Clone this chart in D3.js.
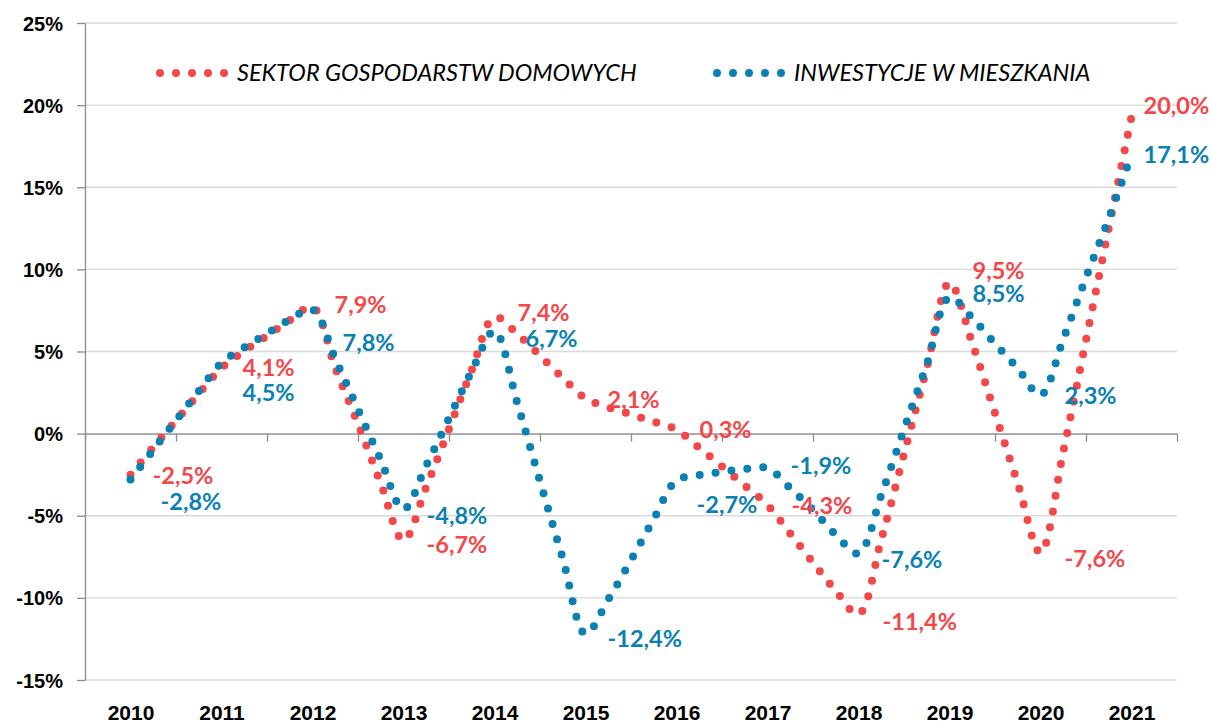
<!DOCTYPE html>
<html lang="pl">
<head>
<meta charset="UTF-8">
<title>Sektor gospodarstw domowych / inwestycje w mieszkania</title>
<script src="https://d3js.org/d3.v7.min.js"></script>
<style>
  body { margin: 0; background: #fff; }
  svg { display: block; font-family: Lato, "Open Sans", sans-serif; }
  .grid line { stroke: #d9d9d9; stroke-width: 1.3px; }
  .axis path, .axis line { stroke: #8c8c8c; stroke-width: 1.3px; }
  .axis text { font-size: 20px; font-weight: bold; fill: #000; }
  .axis.years text { font-size: 21px; }
  .series { fill: none; stroke-width: 8px; stroke-linecap: round; stroke-dasharray: 0 16; }
  .vlabel { font-size: 23.5px; font-weight: bold; }
  .legend text { font-size: 23.5px; font-style: italic; fill: #000; }
</style>
</head>
<body>
<svg width="1212" height="724"></svg>
<script>
// kategorie (lata) i etykiety osi
const years = [2010, 2011, 2012, 2013, 2014, 2015, 2016, 2017, 2018, 2019, 2020, 2021];
const yTicks = [-15, -10, -5, 0, 5, 10, 15, 20, 25];

// punkty kwartalne (r/r, %)
const quarters = d3.range(0, 45).map(i => 2010 + i / 4);
const households = [
  -2.5, -0.84, 0.8, 2.43,
  4.0, 5.03, 5.96, 6.9,
  7.7, 4.0, 0.6, -3.03,
  -6.5, -3.25, 0.29, 3.87,
  7.1, 6.07, 4.75, 3.4,
  2.15, 1.6, 1.17, 0.72,
  0.24, -0.86, -2.0, -3.16,
  -4.35, -6.08, -7.85, -9.57,
  -11.0, -6.46, -1.24, 4.0,
  9.2, 5.5, 1.24, -3.03,
  -7.25, -1.1, 5.7, 12.5,
  19.3
];
const housing = [
  -2.8, -0.99, 0.8, 2.58,
  4.31, 5.24, 6.09, 6.94,
  7.55, 4.55, 1.47, -1.6,
  -4.6, -1.94, 0.94, 3.8,
  6.25, 1.86, -2.9, -7.6,
  -12.2, -10.1, -7.7, -5.2,
  -2.85, -2.53, -2.33, -2.16,
  -2.1, -3.32, -4.66, -6.15,
  -7.3, -3.75, 0.26, 4.2,
  8.3, 7.04, 5.48, 3.97,
  2.35, 5.75, 9.5, 13.1,
  17.0
];

// etykiety wartosci rocznych
const householdLabels = [-2.5, 4.1, 7.9, -6.7, 7.4, 2.1, 0.3, -4.3, -11.4, 9.5, -7.6, 20.0];
const housingLabels = [-2.8, 4.5, 7.8, -4.8, 6.7, -12.4, -2.7, -1.9, -7.6, 8.5, 2.3, 17.1];

// przesuniecia etykiet (px)
const householdOffsets = [[22, 1], [21, 1], [22, 1], [23, 1], [23, 1], [22, 1], [23, 1], [24, 2], [24, 1], [23, -7], [24, 0], [12, 1]];
const housingOffsets = [[30, 22], [21, 33], [30, 37], [23, 3], [31, 15], [22, 1], [20, 27], [23, 1], [23, 1], [23, 0], [24, 0], [12, 2]];

const RED = "#f4474a", BLUE = "#0b81b3";

const svg = d3.select("svg");
const margin = { top: 23, right: 35, bottom: 44, left: 85 };
const width = 1212 - margin.left - margin.right;
const height = 724 - margin.top - margin.bottom;
const g = svg.append("g").attr("transform", `translate(${margin.left},${margin.top})`);

const x = d3.scaleLinear().domain([2009.5, 2021.5]).range([0, width]);
const y = d3.scaleLinear().domain([-15, 25]).range([height, 0]);

// siatka
g.append("g").attr("class", "grid")
  .selectAll("line").data(yTicks).join("line")
  .attr("x1", 0).attr("x2", width)
  .attr("y1", d => y(d)).attr("y2", d => y(d));

// os Y
g.append("g").attr("class", "axis")
  .call(d3.axisLeft(y).tickValues(yTicks).tickFormat(d => d + "%").tickSize(8).tickPadding(14).tickSizeOuter(0))
  .call(a => a.selectAll("text").attr("dy", "0.35em"));

// os X na poziomie 0%
const bounds = years.map(d => d - 0.5).concat([2021.5]);
g.append("g").attr("class", "axis")
  .attr("transform", `translate(0,${y(0)})`)
  .call(d3.axisBottom(x).tickValues(bounds).tickFormat("").tickSize(8).tickSizeOuter(0));

// etykiety lat na dole
g.append("g").attr("class", "axis years")
  .attr("transform", `translate(0,${height})`)
  .call(d3.axisBottom(x).tickValues(years).tickFormat(d => d).tickSize(0).tickPadding(25))
  .call(a => a.select(".domain").remove());

const line = d3.line()
  .x((d, i) => x(quarters[i]))
  .y(d => y(d))
  .curve(d3.curveCatmullRom.alpha(0.5));

g.append("path").attr("class", "series").attr("stroke", RED).attr("d", line(households));
g.append("path").attr("class", "series").attr("stroke", BLUE).attr("d", line(housing));

const fmt = v => v.toFixed(1).replace(".", ",") + "%";

function drawLabels(values, offsets, color) {
  g.append("g").selectAll("text").data(values).join("text")
    .attr("class", "vlabel")
    .attr("fill", color)
    .attr("x", (d, i) => x(years[i]) + offsets[i][0])
    .attr("y", (d, i) => y(d) + offsets[i][1])
    .attr("dy", "0.35em")
    .text(fmt);
}
drawLabels(householdLabels, householdOffsets, RED);
drawLabels(housingLabels, housingOffsets, BLUE);

// legenda
const legend = svg.append("g").attr("class", "legend");
const items = [
  { name: "SEKTOR GOSPODARSTW DOMOWYCH", color: RED, x0: 160 },
  { name: "INWESTYCJE W MIESZKANIA", color: BLUE, x0: 717 }
];
items.forEach(it => {
  legend.append("path").attr("class", "series").attr("stroke", it.color)
    .attr("d", `M${it.x0},73H${it.x0 + 68}`);
  legend.append("text").attr("x", it.x0 + 77).attr("y", 73).attr("dy", "0.35em").text(it.name);
});
</script>
</body>
</html>
